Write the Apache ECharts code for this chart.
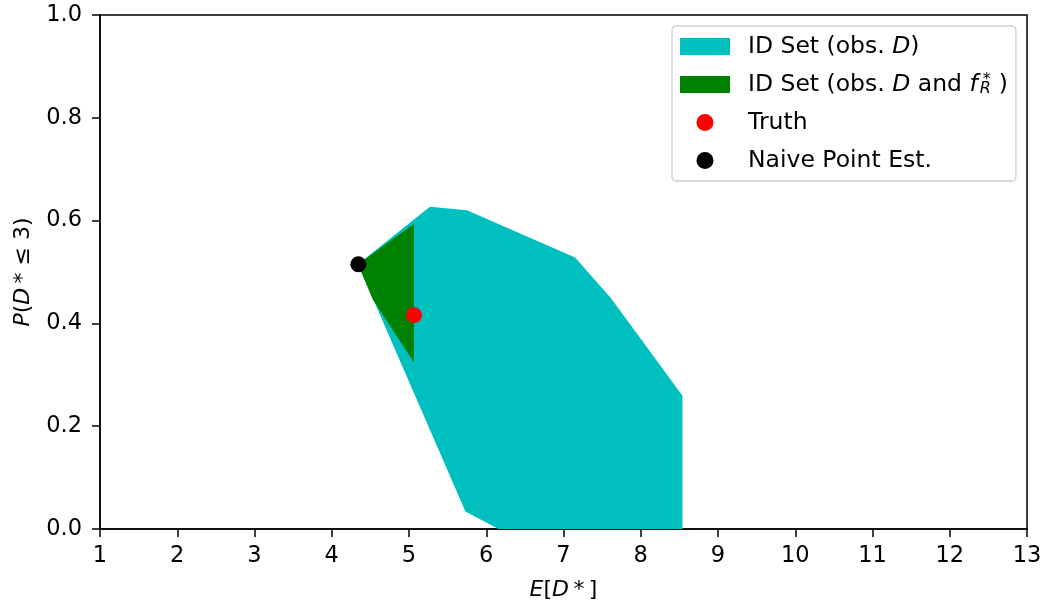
<!DOCTYPE html>
<html>
<head>
<meta charset="utf-8">
<script src="https://cdn.jsdelivr.net/npm/echarts@6/dist/echarts.min.js"></script>
<style>
  html, body { margin: 0; padding: 0; background: #fff; }
  #chart { width: 1045px; height: 606px; }
</style>
</head>
<body>
<div id="chart"></div>
<script>
// identification set, observed D only (polygon vertices)
const idSetX = [4.34, 5.27, 5.75, 7.15, 7.61, 8.54, 8.54, 6.16, 5.73]
const idSetY = [0.515, 0.627, 0.620, 0.528, 0.450, 0.259, 0.0, 0.0, 0.034]
// identification set, observed D and f_R*
const idSetFX = [4.34, 5.065, 5.065, 4.53]
const idSetFY = [0.515, 0.594, 0.324, 0.447]
// single points
const truth = [5.065, 0.416]
const naive = [4.344, 0.515]
const xTicks = [1, 2, 3, 4, 5, 6, 7, 8, 9, 10, 11, 12, 13]
const yTicks = ['0.0', '0.2', '0.4', '0.6', '0.8', '1.0']

const FONT = 'DejaVu Sans'

// polygon drawn through the axes, once for the whole series
function polygonSeries (name, xs, ys, color, z) {
    return {
        name,
        type: 'custom',
        z,
        itemStyle: { color },
        data: [[xs[0], ys[0]]],
        renderItem (params, api) {
            const pts = xs.map((x, i) => api.coord([x, ys[i]]))
            return {
                type: 'polygon',
                shape: { points: pts },
                style: { fill: color }
            }
        }
    }
}

const chart = echarts.init(document.getElementById('chart'))

const mathRich = {
    i: { fontStyle: 'italic', fontFamily: FONT, fontSize: 22, color: '#000' }
}

const option = {
    animation: false,
    backgroundColor: '#fff',
    textStyle: { fontFamily: FONT },
    grid: {
        left: 100,
        right: 18,
        top: 15,
        bottom: 76,
        show: true,
        borderColor: '#000',
        borderWidth: 1.5
    },
    xAxis: {
        type: 'value',
        min: xTicks[0],
        max: xTicks[xTicks.length - 1],
        interval: 1,
        splitLine: { show: false },
        axisLine: { lineStyle: { color: '#000', width: 1.5 } },
        axisTick: { length: 8, lineStyle: { color: '#000', width: 1.5 } },
        axisLabel: { color: '#000', fontSize: 22.5, fontFamily: FONT, margin: 16 },
        name: '{i|E}[{i|D}\u2009*\u2009]',
        nameLocation: 'middle',
        nameGap: 50,
        nameTextStyle: { fontSize: 22, color: '#000', fontFamily: FONT, rich: mathRich }
    },
    yAxis: {
        type: 'value',
        min: 0,
        max: 1,
        interval: 0.2,
        splitLine: { show: false },
        axisLine: { show: true, lineStyle: { color: '#000', width: 1.5 } },
        axisTick: { show: true, length: 8, lineStyle: { color: '#000', width: 1.5 } },
        axisLabel: {
            color: '#000',
            fontSize: 22.5,
            fontFamily: FONT,
            margin: 18,
            formatter: v => yTicks[Math.round(v / 0.2)]
        },
        name: '{i|P}({i|D}\u2009* ≤ 3)',
        nameLocation: 'middle',
        nameGap: 66,
        nameTextStyle: { fontSize: 22, color: '#000', fontFamily: FONT, rich: mathRich }
    },
    legend: {
        orient: 'vertical',
        left: 672,
        top: 26,
        padding: [8, 8, 8, 8],
        itemWidth: 50,
        itemHeight: 17,
        itemGap: 13,
        borderColor: '#d0d0d0',
        borderWidth: 1.3,
        borderRadius: 4,
        backgroundColor: 'rgba(255,255,255,0.8)',
        selectedMode: false,
        textStyle: {
            fontSize: 23.5,
            fontFamily: FONT,
            color: '#000',
            padding: [0, 0, 0, 13],
            lineHeight: 25,
            rich: {
                i: { fontStyle: 'italic', fontSize: 23.5, fontFamily: FONT, lineHeight: 25 },
                sub: { fontStyle: 'italic', fontSize: 16, fontFamily: FONT, verticalAlign: 'bottom', lineHeight: 10, width: 1, padding: [0, 0, 0, 2] },
                sup: { fontSize: 16, fontFamily: FONT, verticalAlign: 'top', lineHeight: 12, padding: [0, 8, 0, 2] }
            }
        },
        formatter (name) {
            if (name === 'cyan') return 'ID Set (obs. {i|D})'
            if (name === 'green') return 'ID Set (obs. {i|D} and {i|f}{sub|R}{sup|*})'
            return name
        },
        data: [
            { name: 'cyan', icon: 'rect' },
            { name: 'green', icon: 'rect' },
            { name: 'Truth', icon: 'circle' },
            { name: 'Naive Point Est.', icon: 'circle' }
        ]
    },
    series: [
        polygonSeries('cyan', idSetX, idSetY, '#00bfbf', 1),
        polygonSeries('green', idSetFX, idSetFY, '#008000', 2),
        {
            name: 'Truth',
            type: 'scatter',
            z: 3,
            symbolSize: 16,
            itemStyle: { color: '#ff0000', opacity: 1 },
            data: [truth]
        },
        {
            name: 'Naive Point Est.',
            type: 'scatter',
            z: 4,
            symbolSize: 16,
            itemStyle: { color: '#000000', opacity: 1 },
            data: [naive]
        }
    ]
}

chart.setOption(option)
</script>
</body>
</html>
